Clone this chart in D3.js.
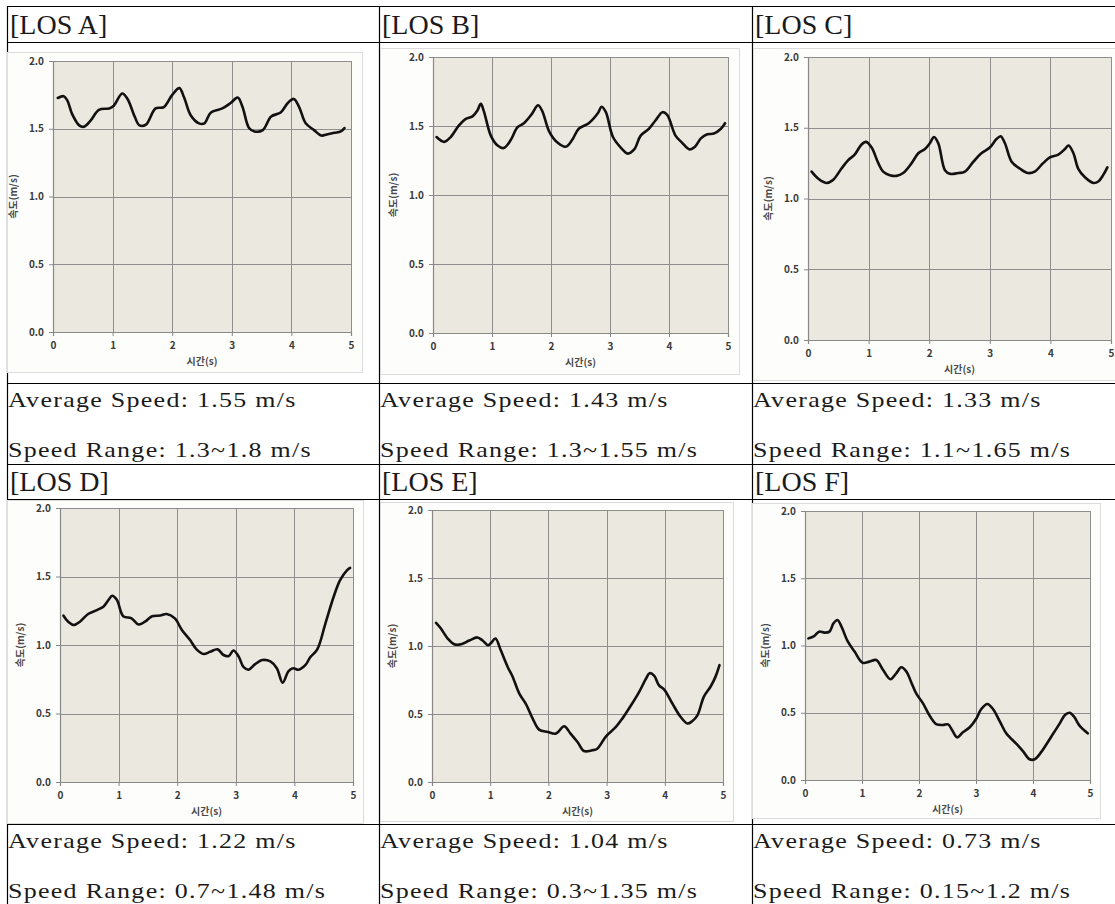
<!DOCTYPE html>
<html>
<head>
<meta charset="utf-8">
<script src="https://cdn.jsdelivr.net/npm/d3@7/dist/d3.min.js"></script>
<style>
  body { margin: 0; background: #fff; }
  .cell-head { font-family: "Liberation Serif", serif; font-size: 28px; fill: #1a1a1a; }
  .cell-body { font-family: "Liberation Serif", serif; font-size: 22px; fill: #1a1a1a; letter-spacing: 1.1px; }
  .tick text { font-family: "Noto Sans CJK KR", sans-serif; font-weight: 700; font-size: 10px; fill: #3a3a3a; }
  .axis-title { font-family: "Noto Sans CJK KR", sans-serif; font-weight: 700; font-size: 10px; fill: #4a4a4a; }
</style>
</head>
<body>
<svg id="page" width="1115" height="904"></svg>
<script>

// ---- DATA ----
const panelNames = ["[LOS A]", "[LOS B]", "[LOS C]", "[LOS D]", "[LOS E]", "[LOS F]"];
const avgSpeed = ["1.55", "1.43", "1.33", "1.22", "1.04", "0.73"];
const speedRange = ["1.3~1.8", "1.3~1.55", "1.1~1.65", "0.7~1.48", "0.3~1.35", "0.15~1.2"];
const xTicks = [0, 1, 2, 3, 4, 5];
const yTicks = [0, 0.5, 1.0, 1.5, 2.0];
const xTitle = "시간(s)";
const yTitle = "속도(m/s)";

// time (s), speed (m/s)
const losA = [[0.08,1.727],[0.18,1.74],[0.24,1.71],[0.32,1.61],[0.44,1.525],[0.52,1.515],[0.63,1.56],[0.77,1.64],
  [0.94,1.65],[1.02,1.67],[1.16,1.76],[1.25,1.72],[1.37,1.59],[1.45,1.525],[1.56,1.53],[1.72,1.65],[1.86,1.66],
  [2.0,1.75],[2.12,1.80],[2.20,1.73],[2.31,1.60],[2.45,1.54],[2.54,1.54],[2.65,1.62],[2.84,1.65],[2.98,1.69],
  [3.10,1.73],[3.18,1.66],[3.29,1.505],[3.38,1.48],[3.52,1.49],[3.66,1.59],[3.82,1.62],[3.94,1.69],[4.04,1.72],
  [4.13,1.66],[4.24,1.54],[4.38,1.49],[4.50,1.45],[4.61,1.46],[4.72,1.47],[4.83,1.48],[4.89,1.505]];

const losB = [[0.06,1.42],[0.19,1.385],[0.30,1.42],[0.44,1.505],[0.55,1.55],[0.67,1.57],[0.75,1.61],[0.81,1.66],
  [0.86,1.61],[0.98,1.43],[1.09,1.36],[1.20,1.34],[1.32,1.40],[1.43,1.49],[1.54,1.52],[1.68,1.59],[1.78,1.65],
  [1.85,1.61],[1.97,1.46],[2.11,1.38],[2.25,1.35],[2.36,1.40],[2.47,1.48],[2.64,1.52],[2.79,1.59],[2.86,1.64],
  [2.93,1.60],[3.05,1.42],[3.19,1.34],[3.30,1.30],[3.41,1.33],[3.52,1.43],[3.66,1.48],[3.77,1.54],[3.89,1.60],
  [3.97,1.58],[4.11,1.43],[4.22,1.38],[4.35,1.33],[4.44,1.35],[4.54,1.41],[4.65,1.44],[4.76,1.445],[4.88,1.48],[4.95,1.52]];

const losC = [[0.06,1.19],[0.17,1.14],[0.30,1.11],[0.41,1.13],[0.55,1.21],[0.66,1.27],[0.77,1.31],[0.88,1.38],
  [0.96,1.40],[1.05,1.36],[1.16,1.25],[1.24,1.19],[1.35,1.165],[1.46,1.16],[1.57,1.18],[1.71,1.25],[1.82,1.32],
  [1.93,1.35],[2.01,1.39],[2.08,1.435],[2.15,1.39],[2.26,1.20],[2.34,1.175],[2.48,1.18],[2.59,1.19],[2.73,1.26],
  [2.86,1.32],[3.0,1.36],[3.11,1.42],[3.18,1.44],[3.25,1.39],[3.36,1.26],[3.50,1.21],[3.63,1.18],[3.74,1.19],
  [3.88,1.25],[3.99,1.29],[4.13,1.31],[4.24,1.35],[4.30,1.375],[4.38,1.32],[4.46,1.21],[4.57,1.15],[4.71,1.11],
  [4.79,1.12],[4.87,1.165],[4.94,1.22]];

const losD = [[0.06,1.214],[0.14,1.17],[0.24,1.146],[0.34,1.17],[0.48,1.226],[0.63,1.255],[0.74,1.28],[0.83,1.33],
  [0.89,1.36],[0.97,1.33],[1.08,1.21],[1.22,1.195],[1.34,1.15],[1.45,1.17],[1.57,1.21],[1.71,1.215],[1.82,1.226],
  [1.96,1.194],[2.08,1.11],[2.22,1.036],[2.33,0.968],[2.45,0.934],[2.56,0.95],[2.69,0.968],[2.79,0.927],[2.88,0.92],
  [2.96,0.96],[3.05,0.915],[3.13,0.84],[3.22,0.82],[3.33,0.86],[3.45,0.89],[3.59,0.88],[3.70,0.83],[3.80,0.725],
  [3.90,0.81],[3.98,0.83],[4.07,0.82],[4.19,0.855],[4.27,0.91],[4.39,0.968],[4.53,1.158],[4.67,1.352],[4.78,1.473],
  [4.90,1.546],[4.95,1.563]];

const losE = [[0.07,1.17],[0.15,1.13],[0.27,1.055],[0.38,1.013],[0.50,1.013],[0.64,1.04],[0.78,1.063],[0.87,1.04],
  [0.96,1.006],[1.01,1.02],[1.09,1.055],[1.18,0.97],[1.30,0.846],[1.38,0.78],[1.50,0.65],[1.61,0.577],[1.73,0.466],
  [1.84,0.385],[1.99,0.368],[2.13,0.356],[2.27,0.41],[2.38,0.356],[2.50,0.294],[2.61,0.228],[2.75,0.233],[2.84,0.245],
  [2.99,0.336],[3.16,0.405],[3.27,0.466],[3.42,0.564],[3.56,0.663],[3.67,0.754],[3.74,0.80],[3.82,0.78],[3.90,0.71],
  [3.99,0.68],[4.13,0.577],[4.27,0.48],[4.39,0.43],[4.47,0.447],[4.56,0.49],[4.67,0.626],[4.79,0.704],[4.87,0.773],[4.94,0.859]];

const losF = [[0.06,1.053],[0.16,1.07],[0.25,1.103],[0.34,1.096],[0.43,1.103],[0.50,1.165],[0.57,1.19],[0.64,1.14],
  [0.75,1.03],[0.87,0.955],[1.01,0.872],[1.13,0.88],[1.25,0.892],[1.37,0.818],[1.50,0.749],[1.60,0.793],[1.69,0.838],
  [1.78,0.806],[1.86,0.731],[1.95,0.644],[2.07,0.57],[2.19,0.476],[2.30,0.416],[2.42,0.409],[2.51,0.414],[2.58,0.372],
  [2.67,0.317],[2.77,0.355],[2.89,0.392],[3.01,0.459],[3.09,0.526],[3.20,0.565],[3.30,0.526],[3.42,0.434],[3.53,0.347],
  [3.71,0.268],[3.83,0.211],[3.94,0.154],[4.03,0.154],[4.15,0.211],[4.32,0.322],[4.47,0.421],[4.56,0.483],[4.64,0.50],
  [4.72,0.471],[4.82,0.402],[4.96,0.347]];

const series = [losA, losB, losC, losD, losE, losF];

// ---- LAYOUT ----
const colX = [7, 379, 752];
const rowLines = [6, 42, 383, 464, 499, 824];
// per group: header baseline, body baselines
const rowText = [
  { head: 34, line1: 407, line2: 457 },
  { head: 491, line1: 848, line2: 898 }
];
const bodyStretch = 1.18; // the original serif is wider than Liberation Serif
// chart image frame and plot area [x0, y0, x1, y1], one per panel
const frames = [
  { frame: [7, 52, 362, 372],     plot: [53, 61, 351, 332] },
  { frame: [380, 48, 739, 374],   plot: [433, 57, 728, 333] },
  { frame: [753, 48, 1126, 380],  plot: [808, 57, 1111, 340] },
  { frame: [7, 500, 363, 823],    plot: [60, 508, 353, 782] },
  { frame: [380, 502, 733, 821],  plot: [432, 510, 723, 782] },
  { frame: [752, 503, 1100, 818], plot: [805, 511, 1090, 780] }
];

const svg = d3.select("#page");

// ---- TABLE ----
svg.selectAll(".hline")
  .data(rowLines)
  .join("line")
  .attr("class", "hline")
  .attr("x1", colX[0]).attr("x2", 1115)
  .attr("y1", d => d + 0.5).attr("y2", d => d + 0.5)
  .attr("stroke", "#000").attr("stroke-width", 1.2);

svg.selectAll(".vline")
  .data(colX)
  .join("line")
  .attr("class", "vline")
  .attr("x1", d => d + 0.5).attr("x2", d => d + 0.5)
  .attr("y1", rowLines[0]).attr("y2", 904)
  .attr("stroke", "#000").attr("stroke-width", 1.2);

// ---- PANELS ----
panelNames.forEach((name, i) => {
  const col = i % 3;
  const grp = Math.floor(i / 3);
  const cx = colX[col];
  const rt = rowText[grp];

  svg.append("text").attr("class", "cell-head")
    .attr("x", cx + 3).attr("y", rt.head).text(name);

  [[rt.line1, `Average Speed: ${avgSpeed[i]} m/s`], [rt.line2, `Speed Range: ${speedRange[i]} m/s`]]
    .forEach(([y, txt]) => {
      svg.append("text").attr("class", "cell-body")
        .attr("transform", `translate(${cx + 1},${y}) scale(${bodyStretch},1)`)
        .text(txt);
    });

  drawChart(series[i], frames[i]);
});

function drawChart(data, box) {
  const [fx0, fy0, fx1, fy1] = box.frame;
  const [px0, py0, px1, py1] = box.plot;

  const g = svg.append("g");

  // chart area
  g.append("rect")
    .attr("x", fx0 + 0.5).attr("y", fy0 + 0.5)
    .attr("width", fx1 - fx0).attr("height", fy1 - fy0)
    .attr("fill", "#fdfdfc").attr("stroke", "#dcdcdc");

  const xScale = d3.scaleLinear().domain([0, 5]).range([px0, px1]);
  const yScale = d3.scaleLinear().domain([0, 2]).range([py1, py0]);

  // plot area
  g.append("rect")
    .attr("x", px0).attr("y", py0)
    .attr("width", px1 - px0).attr("height", py1 - py0)
    .attr("fill", "#ebe8df");

  // gridlines
  g.selectAll(".vgrid")
    .data(xTicks.slice(1))
    .join("line")
    .attr("x1", d => Math.round(xScale(d)) + 0.5).attr("x2", d => Math.round(xScale(d)) + 0.5)
    .attr("y1", py0).attr("y2", py1)
    .attr("stroke", "#8e8e8e").attr("stroke-width", 1);

  g.selectAll(".hgrid")
    .data(yTicks.slice(1))
    .join("line")
    .attr("x1", px0).attr("x2", px1)
    .attr("y1", d => Math.round(yScale(d)) + 0.5).attr("y2", d => Math.round(yScale(d)) + 0.5)
    .attr("stroke", "#8e8e8e").attr("stroke-width", 1);

  // axes
  const yAxis = g.append("g")
    .attr("transform", `translate(${px0},0)`)
    .call(d3.axisLeft(yScale).tickValues(yTicks).tickSize(4).tickPadding(5).tickFormat(d3.format(".1f")));
  const xAxis = g.append("g")
    .attr("transform", `translate(0,${py1})`)
    .call(d3.axisBottom(xScale).tickValues(xTicks).tickSize(4).tickPadding(6).tickFormat(d3.format("d")));
  [yAxis, xAxis].forEach(a => {
    a.select(".domain").attr("stroke", "#888").attr("stroke-width", 1.2);
    a.selectAll(".tick line").attr("stroke", "#888");
  });

  // axis titles
  g.append("text").attr("class", "axis-title")
    .attr("transform", `translate(${px0 - 36},${(py0 + py1) / 2}) rotate(-90)`)
    .attr("text-anchor", "middle")
    .text(yTitle);
  g.append("text").attr("class", "axis-title")
    .attr("x", (px0 + px1) / 2).attr("y", py1 + 33)
    .attr("text-anchor", "middle")
    .text(xTitle);

  // speed trace
  const lineGen = d3.line()
    .x(d => xScale(d[0]))
    .y(d => yScale(d[1]))
    .curve(d3.curveCatmullRom.alpha(0.5));

  g.append("path")
    .datum(data)
    .attr("fill", "none")
    .attr("stroke", "#111")
    .attr("stroke-width", 2.6)
    .attr("stroke-linejoin", "round")
    .attr("stroke-linecap", "round")
    .attr("d", lineGen);
}
</script>
</body>
</html>
